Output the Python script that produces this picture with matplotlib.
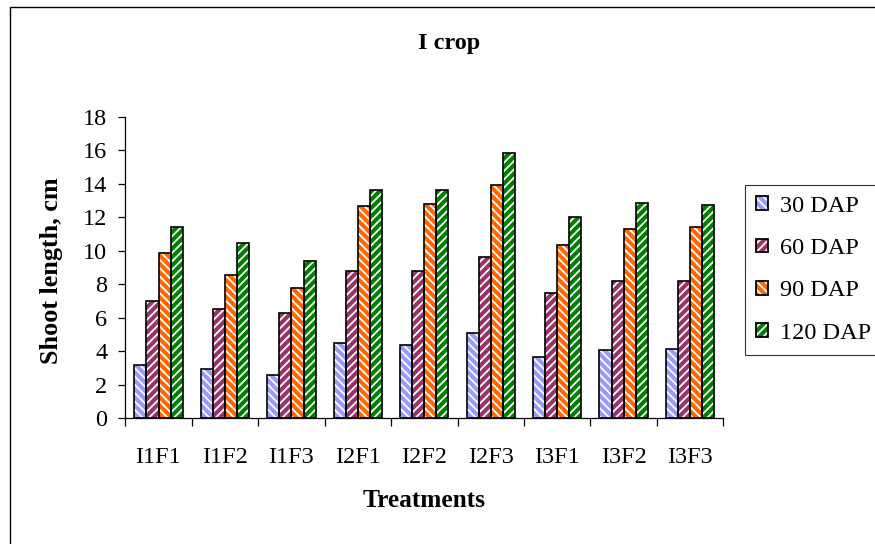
import matplotlib
matplotlib.use("Agg")
import matplotlib.pyplot as plt
import numpy as np
from matplotlib.patches import Patch, Rectangle
from matplotlib.legend_handler import HandlerTuple

# ---- data ----
categories = ["I1F1", "I1F2", "I1F3", "I2F1", "I2F2", "I2F3", "I3F1", "I3F2", "I3F3"]
series_names = ["30 DAP", "60 DAP", "90 DAP", "120 DAP"]
dap30 = [3.2, 2.95, 2.6, 4.5, 4.4, 5.1, 3.65, 4.05, 4.15]
dap60 = [7.0, 6.5, 6.3, 8.8, 8.8, 9.65, 7.5, 8.2, 8.2]
dap90 = [9.85, 8.55, 7.8, 12.7, 12.8, 13.9, 10.35, 11.3, 11.4]
dap120 = [11.4, 10.45, 9.4, 13.6, 13.6, 15.85, 12.0, 12.85, 12.75]
series_values = [dap30, dap60, dap90, dap120]
yticks = list(range(0, 19, 2))
title = "I crop"
xlabel = "Treatments"
ylabel = "Shoot length, cm"

# ---- style ----
colors = ["#9999FF", "#993366", "#FF6600", "#008000"]
hatches = ["\\\\\\\\", "////", "\\\\\\\\", "////"]

plt.rcParams["font.family"] = ["Liberation Serif", "DejaVu Serif"]
plt.rcParams["hatch.linewidth"] = 1.3
FS = 17.5

W, H = 875, 544
fig = plt.figure(figsize=(W / 100, H / 100), dpi=100)
L, R, B, T = 125.3, 723.3, 418.3, 116.7
ax = fig.add_axes([L / W, (H - B) / H, (R - L) / W, (B - T) / H])

x = np.arange(len(categories))
bw = 0.182
handles = []
for k, (vals, c, h) in enumerate(zip(series_values, colors, hatches)):
    pos = x + (k - 1.5) * bw
    ax.bar(pos, vals, bw, color=c, edgecolor="white", hatch=h, linewidth=0, zorder=2)
    ax.bar(pos, vals, bw, fill=False, edgecolor="black", linewidth=1.2, zorder=3)
    handles.append((Patch(facecolor=c, edgecolor="white", hatch=h, linewidth=0),
                    Patch(fill=False, edgecolor="black", linewidth=1.3)))

ax.set_xlim(-0.5, len(categories) - 0.5)
ax.set_ylim(0, 18)
ax.set_yticks(yticks)
ax.set_yticklabels([str(v) for v in yticks], fontsize=FS)
ax.set_xticks(np.arange(-0.5, len(categories), 1.0))
ax.set_xticklabels([])
ax.set_xticks(x, minor=True)
ax.set_xticklabels(categories, minor=True, fontsize=FS)
ax.tick_params(axis="x", which="major", direction="out", length=5.5, width=0.9)
ax.tick_params(axis="x", which="minor", length=0, pad=21)
ax.tick_params(axis="y", direction="out", length=5, width=0.9, pad=8)

for s in ["top", "right"]:
    ax.spines[s].set_visible(False)
for s in ["left", "bottom"]:
    ax.spines[s].set_linewidth(0.9)

ax.set_ylabel(ylabel, fontsize=18.8, fontweight="bold")
ax.yaxis.set_label_coords((52 - L) / (R - L), 0.49)
ax.yaxis.label.set_verticalalignment("center")
ax.set_xlabel(xlabel, fontsize=18.3, fontweight="bold")
ax.xaxis.set_label_coords(0.5, -(489 - B) / (B - T))

fig.text(449 / W, (H - 49) / H, title, fontsize=FS, fontweight="bold",
         ha="center", va="baseline")

leg = ax.legend(handles, series_names, handler_map={tuple: HandlerTuple(ndivide=1)},
                loc="upper left", bbox_to_anchor=(745 / W, (H - 185) / H),
                bbox_transform=fig.transFigure, fontsize=FS, frameon=True,
                fancybox=False, edgecolor="black", borderpad=0.44,
                handlelength=0.5, handleheight=0.5, handletextpad=0.5,
                labelspacing=0.88, borderaxespad=0)
leg.get_frame().set_linewidth(0.8)

fig.patches.append(Rectangle((10 / W, -0.05), 1.1, (H - 7) / H + 0.05,
                             transform=fig.transFigure, fill=False,
                             edgecolor="black", linewidth=1.0))

fig.savefig("out.png", dpi=100)
